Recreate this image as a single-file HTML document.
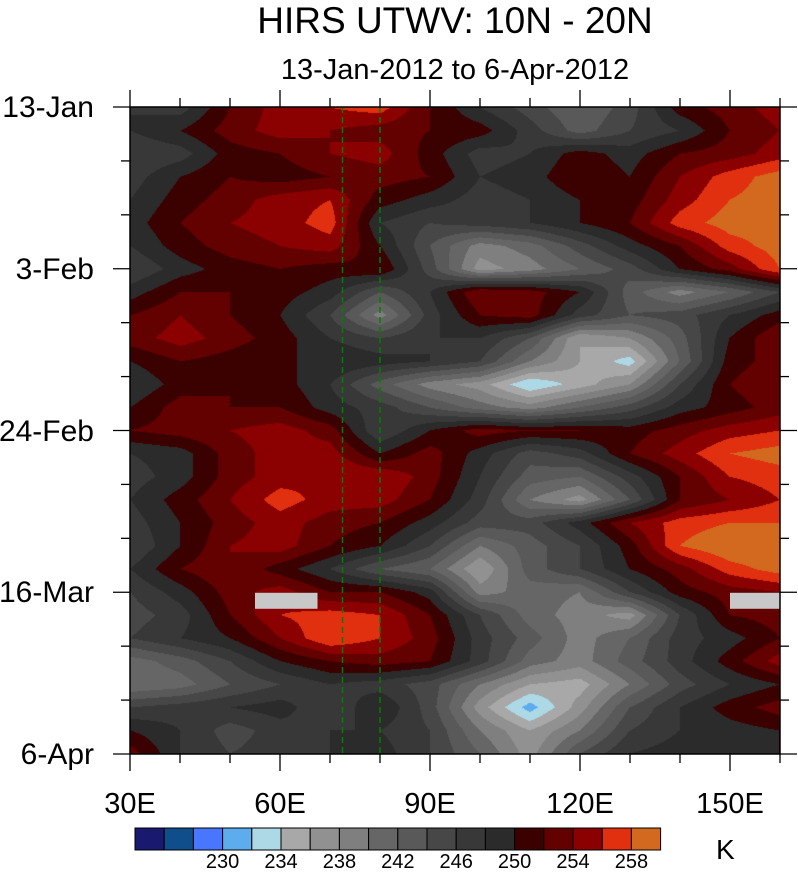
<!DOCTYPE html>
<html><head><meta charset="utf-8"><style>
html,body{margin:0;padding:0;background:#fff;}
body{width:798px;height:869px;position:relative;overflow:hidden;font-family:"Liberation Sans",sans-serif;}
.t{position:absolute;white-space:nowrap;color:#000;line-height:1;}
</style></head><body>
<div class="t" style="left:0;width:910px;text-align:center;top:2px;font-size:37px;">HIRS UTWV: 10N - 20N</div>
<div class="t" style="left:0;width:910px;text-align:center;top:56px;font-size:29px;">13-Jan-2012 to 6-Apr-2012</div>
<canvas id="field" width="650" height="647" style="position:absolute;left:130px;top:107px;"></canvas>
<svg id="ov" width="798" height="869" style="position:absolute;left:0;top:0;"></svg>
<div id="labels"></div>
<script>
const lons=[30,40,50,60,70,80,90,100,110,120,130,140,150,160];
const dayStep=3;
const field=[
[248,247,252,255,256,257,252,248,245,242,245,251,253,255],
[248,250,253,255,254,253,252,251,247,243,246,248,252,254],
[246,247,251,252,254,255,251,247,248,251,249,252,253,255],
[247,250,252,251,252,253,252,248,249,252,250,254,257,259],
[248,251,253,255,256,251,249,247,248,250,251,255,258,259],
[249,252,254,255,257,248,246,247,248,250,252,257,259,259],
[248,251,253,254,255,250,244,239,241,245,249,252,257,259],
[246,249,251,252,251,252,245,237,239,242,245,250,253,258],
[249,252,252,251,249,244,248,254,253,250,243,239,242,246],
[252,254,252,250,246,239,247,252,253,247,244,245,248,251],
[253,255,253,251,248,246,248,248,244,236,238,243,250,254],
[250,252,251,250,250,249,248,246,240,236,233,242,251,253],
[248,251,252,251,248,243,239,237,232,235,238,246,252,254],
[250,253,252,252,249,247,244,241,239,242,245,249,251,253],
[252,253,254,255,253,246,250,253,252,252,251,253,255,256],
[248,249,253,255,255,250,253,249,245,247,252,255,258,259],
[247,249,253,255,256,256,253,248,243,242,247,252,256,257],
[248,251,254,257,255,255,252,247,240,237,244,252,254,256],
[247,250,253,255,253,252,249,245,245,249,254,257,258,258],
[246,250,254,255,252,250,246,240,243,246,251,258,260,260],
[248,252,254,251,248,244,242,236,243,246,250,253,257,259],
[246,249,253,255,252,252,249,239,241,240,246,251,253,254],
[245,247,252,256,257,256,252,246,241,239,237,246,252,253],
[246,248,250,254,258,256,253,247,243,239,242,247,249,252],
[241,243,246,250,252,253,252,247,241,239,243,247,251,255],
[240,241,244,246,248,247,245,240,236,235,240,245,248,250],
[246,247,248,249,246,250,245,237,231,237,244,248,251,253],
[250,248,245,247,248,248,246,240,236,240,246,248,249,250],
[253,248,246,247,248,249,246,242,237,244,248,249,249,250]
];
const levels=[226,228,230,232,234,236,238,240,242,244,246,248,250,252,254,256,258];
const colors=["#191970","#104e8b","#4876ff","#5cacee","#add8e6","#a8a8a8","#919191","#7f7f7f","#666666","#595959","#474747","#383838","#2b2b2b","#3b0000","#630000","#8b0000","#e0300f","#d2691e"];
const cbLabels=[230,234,238,242,246,250,254,258];
const yTicks=["13-Jan","3-Feb","24-Feb","16-Mar","6-Apr"];
const yTickDays=[0,21,42,63,84];
const xTickLons=[30,60,90,120,150];
const xTickLabels=["30E","60E","90E","120E","150E"];
const refLons=[72.5,80];
const missing=[{lon0:55,lon1:67.5,day:63.2},{lon0:150,lon1:160,day:63.2}];

const X0=130,X1=780,Y0=107,Y1=754,LON0=30,LON1=160,D1=84;
const xs=l=>X0+(l-LON0)/(LON1-LON0)*(X1-X0);
const ys=d=>Y0+d/D1*(Y1-Y0);
function hex(c){return [parseInt(c.substr(1,2),16),parseInt(c.substr(3,2),16),parseInt(c.substr(5,2),16)];}
const rgb=colors.map(hex);
function bin(v){let i=0;while(i<levels.length&&v>=levels[i])i++;return i;}
const cv=document.getElementById('field');const ctx=cv.getContext('2d');
const W=cv.width,H=cv.height;const img=ctx.createImageData(W,H);
const nR=field.length,nC=lons.length;
for(let py=0;py<H;py++){
  const day=py/(H-1)*D1;let r=day/dayStep;let r0=Math.min(Math.floor(r),nR-2);let fr=r-r0;
  for(let px=0;px<W;px++){
    const lon=LON0+px/(W-1)*(LON1-LON0);let c=(lon-lons[0])/(lons[1]-lons[0]);let c0=Math.min(Math.floor(c),nC-2);let fc=c-c0;
    const v=(field[r0][c0]*(1-fc)+field[r0][c0+1]*fc)*(1-fr)+(field[r0+1][c0]*(1-fc)+field[r0+1][c0+1]*fc)*fr;
    const col=rgb[bin(v)];const k=(py*W+px)*4;
    img.data[k]=col[0];img.data[k+1]=col[1];img.data[k+2]=col[2];img.data[k+3]=255;
  }
}
ctx.putImageData(img,0,0);
const NS='http://www.w3.org/2000/svg';const ov=document.getElementById('ov');
function mk(tag,at){const e=document.createElementNS(NS,tag);for(const k in at)e.setAttribute(k,at[k]);ov.appendChild(e);return e;}
missing.forEach(m=>{
  const e=mk('rect',{x:xs(m.lon0),y:ys(m.day)-1,width:xs(m.lon1)-xs(m.lon0),height:16,fill:'#c8c8c8'});
  
  
});
refLons.forEach(l=>{
  const e=mk('line',{x1:xs(l),x2:xs(l),y1:Y0,y2:Y1,stroke:'#008000','stroke-width':1.5,'stroke-dasharray':'6,4'});
  
  
});
const fr=mk('rect',{x:X0,y:Y0,width:X1-X0,height:Y1-Y0,fill:'none',stroke:'#000','stroke-width':1.5});


const lab=document.getElementById('labels');
function txt(s,style,name){const d=document.createElement('div');d.className='t';d.textContent=s;d.setAttribute('style',style);
  
  
  lab.appendChild(d);}
for(let d=0;d<=D1;d+=7){const y=ys(d);const major=yTickDays.indexOf(d)>=0;const L=major?17:9;
  mk('line',{x1:X0-L,x2:X0,y1:y,y2:y,stroke:'#000','stroke-width':1.3});
  mk('line',{x1:X1,x2:X1+L,y1:y,y2:y,stroke:'#000','stroke-width':1.3});}
yTicks.forEach((s,i)=>txt(s,`right:${798-94}px;top:${ys(yTickDays[i])-14}px;font-size:30px;`,'y-tick-label'));
for(let l=30;l<=160;l+=10){const x=xs(l);const major=xTickLons.indexOf(l)>=0;const L=major?17:9;
  mk('line',{x1:x,x2:x,y1:Y1,y2:Y1+L,stroke:'#000','stroke-width':1.3});
  mk('line',{x1:x,x2:x,y1:Y0-L,y2:Y0,stroke:'#000','stroke-width':1.3});}
xTickLabels.forEach((s,i)=>txt(s,`left:${xs(xTickLons[i])-70}px;width:140px;text-align:center;top:790px;font-size:29px;`,'x-tick-label'));
const CB0=135,CBW=29.2,CBY=828,CBH=22;
colors.forEach((c,i)=>{const e=mk('rect',{x:CB0+i*CBW,y:CBY,width:CBW,height:CBH,fill:c,stroke:'#000','stroke-width':1});
  
  });
cbLabels.forEach(v=>{const i=levels.indexOf(v)+1;txt(String(v),`left:${CB0+i*CBW-30}px;width:60px;text-align:center;top:852px;font-size:20px;`,'colorbar-label');});
txt('K','left:716px;top:836px;font-size:28px;','colorbar-unit');
</script>
</body></html>
